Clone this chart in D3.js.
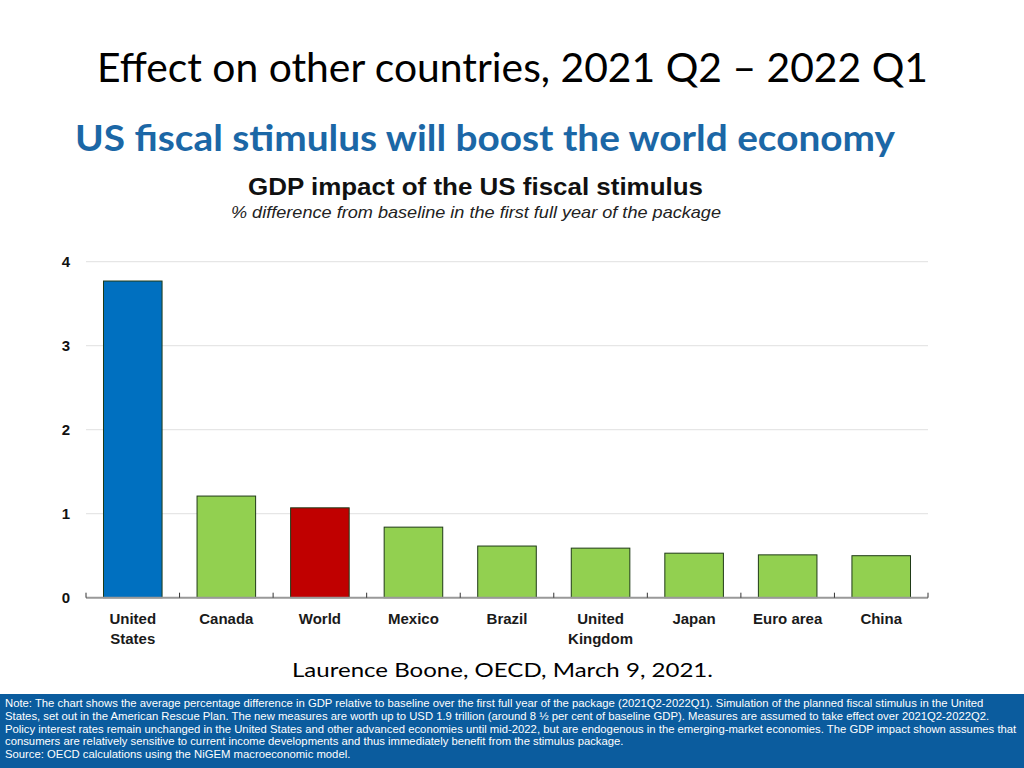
<!DOCTYPE html>
<html>
<head>
<meta charset="utf-8">
<script src="https://cdn.jsdelivr.net/npm/d3@7"></script>
<style>
  html, body { margin: 0; padding: 0; background: #fff; }
  svg { display: block; }
</style>
</head>
<body>
<svg id="chart" width="1024" height="768"></svg>
<script>
// ---- data ----
const categories = [["United", "States"], ["Canada"], ["World"], ["Mexico"], ["Brazil"], ["United", "Kingdom"], ["Japan"], ["Euro area"], ["China"]];
const values = [3.77, 1.21, 1.07, 0.84, 0.615, 0.59, 0.53, 0.51, 0.50];
const groups = ["us", "other", "world", "other", "other", "other", "other", "other", "other"];
const yTicks = [0, 1, 2, 3, 4];
const noteLines = [
  "Note: The chart shows the average percentage difference in GDP relative to baseline over the first full year of the package (2021Q2-2022Q1). Simulation of the planned fiscal stimulus in the United",
  "States, set out in the American Rescue Plan. The new measures are worth up to USD 1.9 trillion (around 8 \u00BD per cent of baseline GDP). Measures are assumed to take effect over 2021Q2-2022Q2.",
  "Policy interest rates remain unchanged in the United States and other advanced economies until mid-2022, but are endogenous in the emerging-market economies. The GDP impact shown assumes that",
  "consumers are relatively sensitive to current income developments and thus immediately benefit from the stimulus package.",
  "Source: OECD calculations using the NiGEM macroeconomic model."
];

// ---- styles ----
const colorOf = { us: "#0070C0", world: "#C00000", other: "#92D050" };
const svg = d3.select("#chart");
const keys = categories.map(c => c.join(" "));

// Titles
svg.append("text").attr("x", 97).attr("y", 82)
  .attr("font-family", "Lato, 'Open Sans', sans-serif").attr("font-size", 40)
  .attr("textLength", 831).attr("lengthAdjust", "spacingAndGlyphs")
  .attr("fill", "#000").text("Effect on other countries, 2021 Q2 \u2013 2022 Q1");

svg.append("text").attr("x", 75).attr("y", 151)
  .attr("font-family", "Lato, 'Open Sans', sans-serif").attr("font-size", 36).attr("font-weight", "bold")
  .attr("textLength", 820).attr("lengthAdjust", "spacingAndGlyphs")
  .attr("fill", "#1B67A6").text("US fiscal stimulus will boost the world economy");

svg.append("text").attr("x", 248).attr("y", 195)
  .attr("font-family", "'Liberation Sans', Arial, sans-serif").attr("font-size", 24).attr("font-weight", "bold")
  .attr("textLength", 455).attr("lengthAdjust", "spacingAndGlyphs")
  .attr("fill", "#111").text("GDP impact of the US fiscal stimulus");

svg.append("text").attr("x", 231).attr("y", 218)
  .attr("font-family", "'Liberation Sans', Arial, sans-serif").attr("font-size", 17).attr("font-style", "italic")
  .attr("textLength", 490).attr("lengthAdjust", "spacingAndGlyphs")
  .attr("fill", "#222").text("% difference from baseline in the first full year of the package");

// Scales
const x = d3.scaleBand().domain(keys).range([86, 928]).paddingInner(0.374).paddingOuter(0.187);
const y = d3.scaleLinear().domain([0, 4]).range([597.7, 261.7]);

// Gridlines
svg.append("g").selectAll("line").data(yTicks.filter(t => t > 0)).join("line")
  .attr("x1", 86).attr("x2", 928)
  .attr("y1", d => y(d)).attr("y2", d => y(d))
  .attr("stroke", "#e0e0e0").attr("stroke-width", 1);

// Y tick labels
svg.append("g").selectAll("text").data(yTicks).join("text")
  .attr("x", 70).attr("y", d => y(d) + 5.5)
  .attr("text-anchor", "end")
  .attr("font-family", "'Liberation Sans', Arial, sans-serif").attr("font-size", 15).attr("font-weight", "bold")
  .attr("fill", "#111").text(d => d);

// Bars
svg.append("g").selectAll("rect").data(values).join("rect")
  .attr("x", (d, i) => x(keys[i]))
  .attr("width", x.bandwidth())
  .attr("y", d => y(d))
  .attr("height", d => y(0) - y(d))
  .attr("fill", (d, i) => colorOf[groups[i]])
  .attr("stroke", "#1f3a17").attr("stroke-width", 1);

// X axis line and ticks
svg.append("line").attr("x1", 86).attr("x2", 928).attr("y1", y(0)).attr("y2", y(0))
  .attr("stroke", "#999").attr("stroke-width", 2);
const step = x.step();
const bounds = d3.range(keys.length + 1).map(i => 86 + i * step);
svg.append("g").selectAll("line").data(bounds).join("line")
  .attr("x1", d => d).attr("x2", d => d)
  .attr("y1", y(0)).attr("y2", y(0) - 5)
  .attr("stroke", "#333").attr("stroke-width", 1);

// Category labels
const lab = svg.append("g").selectAll("text").data(categories).join("text")
  .attr("text-anchor", "middle")
  .attr("font-family", "'Liberation Sans', Arial, sans-serif").attr("font-size", 15).attr("font-weight", "bold")
  .attr("fill", "#1a1a1a");
lab.each(function(c, i) {
  const t = d3.select(this);
  c.forEach((line, j) => {
    t.append("tspan").attr("x", x(keys[i]) + x.bandwidth() / 2).attr("y", 624 + j * 20).text(line);
  });
});

// Attribution
svg.append("text").attr("x", 292).attr("y", 677)
  .attr("font-family", "Lato, 'Open Sans', sans-serif").attr("font-size", 20)
  .attr("textLength", 421).attr("lengthAdjust", "spacingAndGlyphs")
  .attr("fill", "#000").text("Laurence Boone, OECD, March 9, 2021.");

// Footer note box
svg.append("rect").attr("x", 0).attr("y", 694).attr("width", 1024).attr("height", 74).attr("fill", "#0B5C9E");
svg.append("g").selectAll("text").data(noteLines).join("text")
  .attr("x", 5).attr("y", (d, i) => 707 + i * 12.8)
  .attr("font-family", "'Liberation Sans', Arial, sans-serif").attr("font-size", 11.3)
  .attr("fill", "#fff").text(d => d);
</script>
</body>
</html>
